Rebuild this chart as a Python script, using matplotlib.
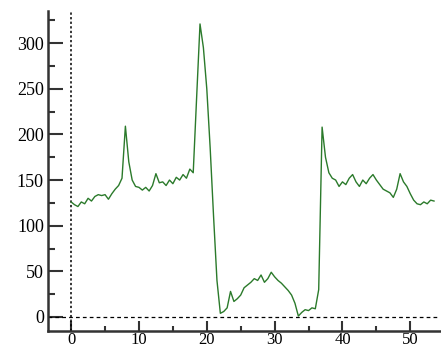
import numpy as np
import matplotlib
matplotlib.use('Agg')
import matplotlib.pyplot as plt
from matplotlib.ticker import MultipleLocator

x_start = 0.0
x_step = 0.5
values = [
    126, 123, 121, 126, 124, 130, 127, 132, 134, 133,
    134, 129, 135, 140, 144, 152, 209, 170, 150, 143,
    142, 139, 142, 138, 144, 157, 147, 148, 144, 150,
    146, 153, 150, 156, 152, 162, 158, 240, 321, 295,
    250, 185, 110, 40, 4, 6, 10, 28, 17, 20,
    24, 32, 35, 38, 42, 40, 46, 38, 42, 49,
    44, 40, 37, 33, 29, 24, 15, 1, 5, 8,
    7, 10, 9, 30, 208, 175, 158, 152, 150, 143,
    148, 145, 152, 156, 148, 143, 150, 146, 152, 156,
    150, 145, 140, 138, 136, 131, 140, 157, 148, 143,
    135, 128, 124, 123, 126, 124, 128, 127,
]
x_ticks = [0, 10, 20, 30, 40, 50]
y_ticks = [0, 50, 100, 150, 200, 250, 300]

x = x_start + x_step * np.arange(len(values))

plt.rcParams['font.family'] = ['Liberation Serif', 'DejaVu Serif']

fig = plt.figure(figsize=(4.41, 3.49), dpi=100)
ax = fig.add_axes([0.109, 0.052, 0.889, 0.916])

ax.axvline(0, color='black', linestyle=(0, (1.5, 1.5)), linewidth=1.1)
ax.axhline(0, color='black', linestyle=(0, (3, 2.5)), linewidth=0.9)
ax.plot(x, values, color='#2b7a2b', linewidth=1.0)

ax.set_xlim(-3.4, 54.4)
ax.set_ylim(-15.2, 335)
ax.set_xticks(x_ticks)
ax.set_yticks(y_ticks)
ax.xaxis.set_minor_locator(MultipleLocator(5))
ax.yaxis.set_minor_locator(MultipleLocator(25))

for s in ['top', 'right']:
    ax.spines[s].set_visible(False)
for s in ['left', 'bottom']:
    ax.spines[s].set_linewidth(1.8)
    ax.spines[s].set_color('#333333')

ax.tick_params(axis='y', which='major', direction='in', length=11, width=1.5,
               labelsize=13, pad=3, color='#333333')
ax.tick_params(axis='y', which='minor', direction='in', length=5, width=1.5,
               color='#333333')
ax.tick_params(axis='x', which='major', direction='in', length=7, width=1.5,
               labelsize=12, pad=0.5, color='#333333')
ax.tick_params(axis='x', which='minor', direction='in', length=3.5, width=1.5,
               color='#333333')

fig.savefig('out.png', dpi=100)
